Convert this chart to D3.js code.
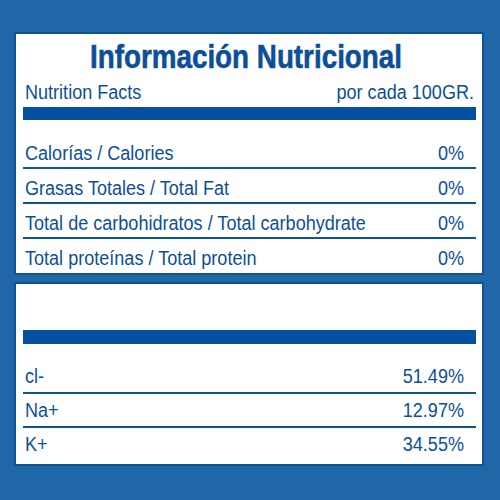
<!DOCTYPE html>
<html><head><meta charset="utf-8">
<script src="https://cdn.jsdelivr.net/npm/d3@7"></script>
<style>body{margin:0;background:#1f67a6}</style></head>
<body><svg id="c" width="500" height="500"></svg>
<script>
const title = "Información Nutricional";
const subLeft = "Nutrition Facts";
const subRight = "por cada 100GR.";
const nutrients = ["Calorías / Calories","Grasas Totales / Total Fat","Total de carbohidratos / Total carbohydrate","Total proteínas / Total protein"];
const nutrientValues = [0,0,0,0];
const ions = ["cl-","Na+","K+"];
const ionValues = [51.49,12.97,34.55];

const svg = d3.select("#c");
const blue = "#0c4f98", bg = "#1f67a6";
const font = "'Liberation Sans',Arial,sans-serif";
const sx = 0.86;
function txt(x, y, s, anchor, size, weight){
  return svg.append("text").attr("transform",`translate(${x},${y}) scale(${sx},1)`)
    .attr("text-anchor",anchor||"start").attr("font-family",font).attr("font-size",size||21)
    .attr("font-weight",weight||"normal").attr("fill",blue).text(s);
}
svg.append("rect").attr("width",500).attr("height",500).attr("fill",bg);
svg.append("rect").attr("x",15).attr("y",33).attr("width",468).attr("height",241).attr("fill","#fff").attr("stroke","#0d5497").attr("stroke-width",2);
svg.append("rect").attr("x",15).attr("y",283).attr("width",468).attr("height",182).attr("fill","#fff").attr("stroke","#0d5497").attr("stroke-width",2);

svg.append("text").attr("x",246).attr("y",68).attr("text-anchor","middle").attr("font-family",font)
  .attr("font-weight","bold").attr("font-size",34).attr("fill",blue).attr("textLength",312)
  .attr("lengthAdjust","spacingAndGlyphs").attr("stroke",blue).attr("stroke-width",0.6).text(title);
txt(25,99,subLeft);
txt(474,99,subRight,"end");
svg.append("rect").attr("x",23).attr("y",107).attr("width",453).attr("height",13).attr("fill","#0550a0");
svg.append("rect").attr("x",23).attr("y",330).attr("width",453).attr("height",14).attr("fill","#0550a0");

function table(names, vals, y0, y1, off, fmt){
  const y = d3.scaleBand().domain(names).range([y0,y1]);
  names.forEach((n,i)=>{
    const yy = y(n);
    if(i>0) svg.append("line").attr("x1",23).attr("x2",476).attr("y1",yy).attr("y2",yy).attr("stroke","#0d5497").attr("stroke-width",2);
    txt(25, yy+y.bandwidth()/2+off, n);
    txt(464, yy+y.bandwidth()/2+off, fmt(vals[i]), "end");
  });
}
table(nutrients, nutrientValues, 133, 273, 9, v=>v+"%");
table(ions, ionValues, 359, 461, 7, v=>v.toFixed(2)+"%");
</script></body></html>
